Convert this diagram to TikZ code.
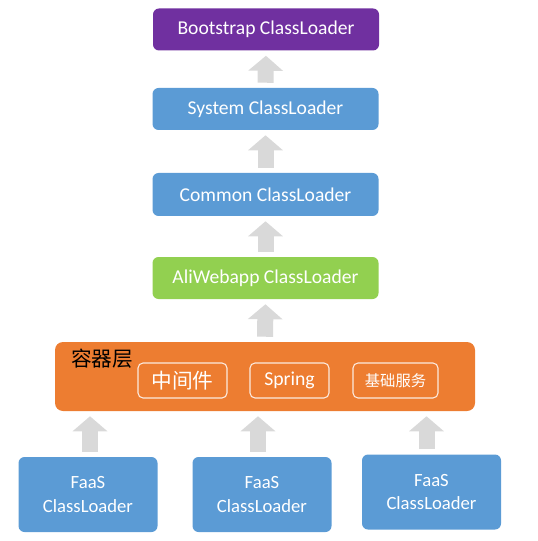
\documentclass[tikz,border=0pt]{standalone}
\usepackage{fontspec}
\setmainfont{Carlito}
\newfontfamily\cjk{Noto Sans CJK SC}
\usetikzlibrary{arrows.meta}
\def\PX{0.75pt}
\definecolor{cpurple}{HTML}{7030A0}
\definecolor{cblue}{HTML}{5B9BD5}
\definecolor{cgreen}{HTML}{92D050}
\definecolor{corange}{HTML}{ED7D31}
\definecolor{carrow}{HTML}{D9D9D9}
\tikzset{
  loader/.style={rectangle, rounded corners=6*\PX, draw=none, text=white, inner sep=0pt,
    minimum width=226*\PX, minimum height=42*\PX, font=\fontsize{14.7}{17}\selectfont},
  faas/.style={loader, fill=cblue, minimum width=139*\PX, minimum height=75*\PX, align=center,
    font=\fontsize{14}{17.5}\selectfont},
  inner/.style={rectangle, rounded corners=5*\PX, draw=white!85!corange, line width=0.8pt, text=white,
    inner sep=0pt, minimum height=35*\PX},
  uparrow/.style={draw=carrow, line width=16*\PX, -{Triangle[width=34*\PX, length=15*\PX]},
    shorten >=5*\PX, shorten <=5*\PX}
}
\begin{document}
\begin{tikzpicture}[x=0.75pt, y=-0.75pt]
\useasboundingbox (0,0) rectangle (537,541);
\node[loader, fill=cpurple] (boot) at (266,29.5) {Bootstrap ClassLoader};
\node[loader, fill=cblue] (sys) at (265.5,109) {System ClassLoader};
\node[loader, fill=cblue, minimum height=43*\PX] (com) at (265.5,194.5) {Common ClassLoader};
\node[loader, fill=cgreen] (ali) at (265.5,278) {AliWebapp ClassLoader};
\node[rectangle, rounded corners=8*\PX, fill=corange, minimum width=420*\PX, minimum height=69*\PX, inner sep=0pt] (cont) at (265,376.5) {};
\node[text=black, font=\cjk\fontsize{15.5}{18}\selectfont] (ctitle) at (102,359) {容器层};
\node[inner, minimum width=89*\PX, font=\cjk\fontsize{15.5}{18}\selectfont] (mid) at (182.5,380.5) {中间件};
\node[inner, minimum width=79*\PX, font=\fontsize{14.8}{17}\selectfont] (spring) at (289.5,380.5) {Spring};
\node[inner, minimum width=85*\PX, font=\cjk\fontsize{11.5}{14}\selectfont] (base) at (395.5,380.5) {基础服务};
\node[faas] (f1) at (88,494.5) {FaaS\\ClassLoader};
\node[faas] (f2) at (262,494.5) {FaaS\\ClassLoader};
\node[faas] (f3) at (431.5,492) {FaaS\\ClassLoader};
\draw[uparrow] (sys.north) -- (boot.south);
\draw[uparrow] (com.north) -- (sys.south);
\draw[uparrow] (ali.north) -- (com.south);
\draw[uparrow] (cont.north) -- (ali.south);
\draw[uparrow] ([xshift=2*\PX]f1.north) -- ([xshift=2*\PX]f1.north |- cont.south);
\draw[uparrow] ([xshift=-4*\PX]f2.north) -- ([xshift=-4*\PX]f2.north |- cont.south);
\draw[uparrow] ([xshift=-5*\PX]f3.north) -- ([xshift=-5*\PX]f3.north |- cont.south);
\end{tikzpicture}
\end{document}
